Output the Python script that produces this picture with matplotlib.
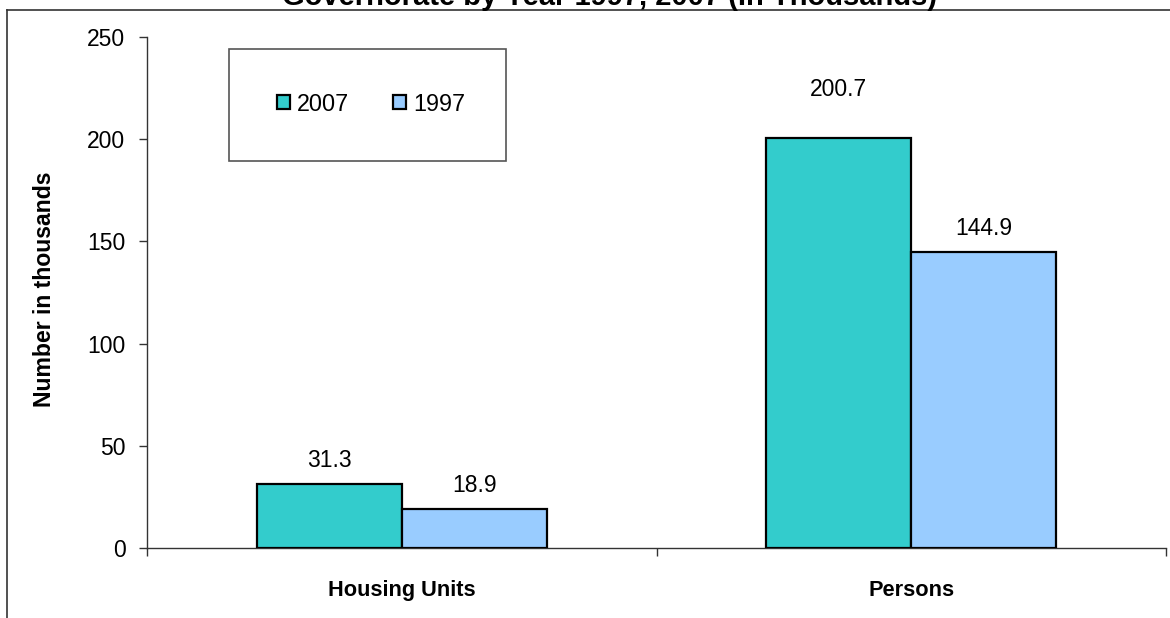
import matplotlib
matplotlib.use("Agg")
import matplotlib.pyplot as plt
from matplotlib.patches import Rectangle, Patch
from matplotlib.lines import Line2D
import numpy as np

plt.rcParams['font.family'] = ['Liberation Sans', 'DejaVu Sans']

categories = ["Housing Units", "Persons"]
series_names = ["2007", "1997"]
values_2007 = [31.3, 200.7]
values_1997 = [18.9, 144.9]
title = "Governorate by Year 1997, 2007 (In Thousands)"
ylabel = "Number in thousands"
yticks = [0, 50, 100, 150, 200, 250]

colors = ["#33CCCC", "#99CCFF"]
label_offsets_px = [[17, 42], [17, 17]]  # per series, per category

W, H = 1170, 618
fig = plt.figure(figsize=(W / 100, H / 100), dpi=100)

def fx(px):
    return px / W

def fy(py):
    return 1 - py / H

ax = fig.add_axes([fx(147), fy(548), fx(1166) - fx(147), fy(37) - fy(548)])

x = np.arange(len(categories))
bw = 0.2846
series = [values_2007, values_1997]
for i, (vals, name) in enumerate(zip(series, series_names)):
    pos = x + (i - 0.5) * bw
    bars = ax.bar(pos, vals, width=bw, color=colors[i], edgecolor="black",
                  linewidth=1.6, label=name, zorder=3)
    for j, (b, v) in enumerate(zip(bars, vals)):
        ax.annotate(f"{v:.1f}", (b.get_x() + b.get_width() / 2, v),
                    xytext=(0, label_offsets_px[i][j] * 0.72), textcoords="offset points",
                    ha="center", va="baseline", fontsize=16.5)

ax.set_xlim(-0.5, len(categories) - 0.5)
ax.set_ylim(0, 250)
ax.set_yticks(yticks)
ax.set_yticklabels([str(t) for t in yticks], fontsize=16.5)
ax.tick_params(axis="y", direction="out", length=5.5, width=1, color="#333333", pad=10)
ax.set_xticks(x)
ax.set_xticklabels(categories, fontsize=15.7, fontweight="bold")
ax.tick_params(axis="x", which="major", length=0, pad=23)
ax.set_xticks(np.arange(-0.5, len(categories), 1.0), minor=True)
ax.tick_params(axis="x", which="minor", direction="out", length=5.5, width=1, color="#333333")

for s in ["top", "right"]:
    ax.spines[s].set_visible(False)
for s in ["left", "bottom"]:
    ax.spines[s].set_color("#333333")
    ax.spines[s].set_linewidth(1)

fig.text(fx(45), fy(289), ylabel, rotation=90, ha="center", va="center",
         fontsize=16.6, fontweight="bold")

# outer chart frame
fig.add_artist(Line2D([fx(7), fx(7)], [fy(10), 0], color="#333333", linewidth=1.2,
                      transform=fig.transFigure))
fig.add_artist(Line2D([fx(7), 1], [fy(10), fy(10)], color="#333333", linewidth=1.2,
                      transform=fig.transFigure))

# title (partially clipped at the top)
fig.text(fx(610), fy(5), title, ha="center", va="baseline", fontsize=21, fontweight="bold")

# legend box
fig.add_artist(Rectangle((fx(229), fy(161)), fx(506) - fx(229), fy(49) - fy(161),
                         transform=fig.transFigure, facecolor="white",
                         edgecolor="#555555", linewidth=1.2, zorder=5))
handles = [Patch(facecolor=colors[i], edgecolor="black", linewidth=1.6) for i in range(2)]
leg = fig.legend(handles, series_names, loc="center", bbox_to_anchor=(fx(371), fy(104)),
                 ncol=2, frameon=False, fontsize=16.8, handlelength=0.55, handleheight=0.55,
                 handletextpad=0.3, columnspacing=1.9)
leg.set_zorder(6)

fig.savefig("out.png", dpi=100)
